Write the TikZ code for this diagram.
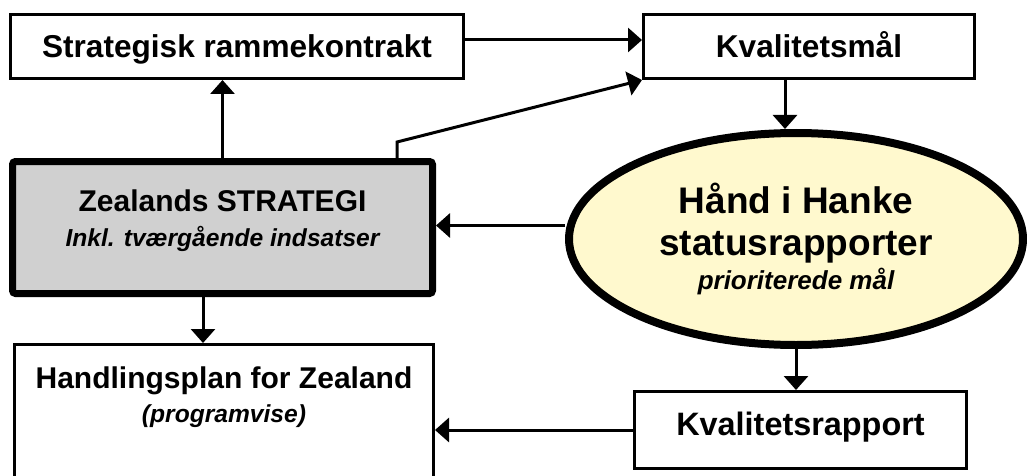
\documentclass[tikz,border=0pt]{standalone}
\usepackage{fontspec}
\setmainfont{Liberation Sans}
\usepackage{xcolor}
\usepackage{tikz}
\usetikzlibrary{arrows.meta,shapes,shadows}
\definecolor{strategigray}{RGB}{208,208,208}
\definecolor{hankeyellow}{RGB}{255,249,206}

\tikzset{
	box/.style={draw, line width=1.5pt, inner sep=0pt, align=center, font=\fontsize{15.8}{18}\selectfont\bfseries},
	arr/.style={line width=1.5pt, -{Triangle[length=7pt,width=12pt]}},
}

\begin{document}
\begin{tikzpicture}[x=0.5pt,y=-0.5pt]
	\clip (0,0) rectangle (1027,476);
	\node[box, minimum width=226.5pt, minimum height=32pt, text height=11.3pt, text depth=0pt] (ramme) at (237,46.5) {Strategisk rammekontrakt};
	\node[box, minimum width=165.5pt, minimum height=32pt, text height=11.3pt, text depth=0pt] (maal) at (809,46.5) {Kvalitetsmål};
	\node[box, line width=3.5pt, rounded corners=1.5pt, fill=strategigray, minimum width=210pt, minimum height=66pt,
		font=\fontsize{15}{18}\selectfont\bfseries] (strategi) at (222.5,227.5)
		{\parbox[c][66pt][t]{210pt}{\centering\vspace*{14pt}Zealands STRATEGI\\[-0.5pt]{\fontsize{12.3}{15}\selectfont\itshape Inkl. tværgående indsatser}}};
	\node[box, anchor=north, minimum width=209.5pt, minimum height=80pt, font=\fontsize{15}{18}\selectfont\bfseries] (plan) at (224,343)
		{\parbox[t][80pt][t]{209pt}{\centering\vspace*{11pt}Handlingsplan for Zealand\\[-1pt]{\fontsize{12.3}{15}\selectfont\itshape (programvise)}}};
	\node[ellipse, draw, line width=4pt, fill=hankeyellow, minimum width=227pt, minimum height=106pt, inner sep=0pt, align=center,
		font=\fontsize{18.5}{21}\selectfont\bfseries,
		drop shadow={shadow xshift=1.5pt, shadow yshift=-1.5pt, opacity=0.25}] (hanke) at (796,239)
		{Hånd i Hanke\\statusrapporter\\[-4pt]{\fontsize{13}{15}\selectfont\itshape prioriterede mål}};
	\node[box, minimum width=166pt, minimum height=38.5pt, font=\fontsize{16.2}{18}\selectfont\bfseries] (rapport) at (800.5,430) {Kvalitetsrapport\\[-12pt]};

	\draw[arr] ([yshift=3.25pt]ramme.east) -- ([yshift=3.25pt]maal.west);
	\draw[arr] (strategi.north) -- (strategi.north |- ramme.south);
	\draw[arr] ([xshift=87.25pt]strategi.north) -- ++(0,-16) -- (maal.south west);
	\draw[arr] ([xshift=-12pt]maal.south) -- ([xshift=-12pt]maal.south |- hanke.north);
	\draw[arr] ([yshift=6.75pt]hanke.west) -- ([yshift=6.75pt]hanke.west -| strategi.east);
	\draw[arr] ([xshift=-9.75pt]strategi.south) -- ([xshift=-9.75pt]strategi.south |- plan.north);
	\draw[arr] (hanke.south) -- (hanke.south |- rapport.north);
	\draw[arr] (rapport.west) -- (rapport.west -| plan.east);
\end{tikzpicture}
\end{document}
